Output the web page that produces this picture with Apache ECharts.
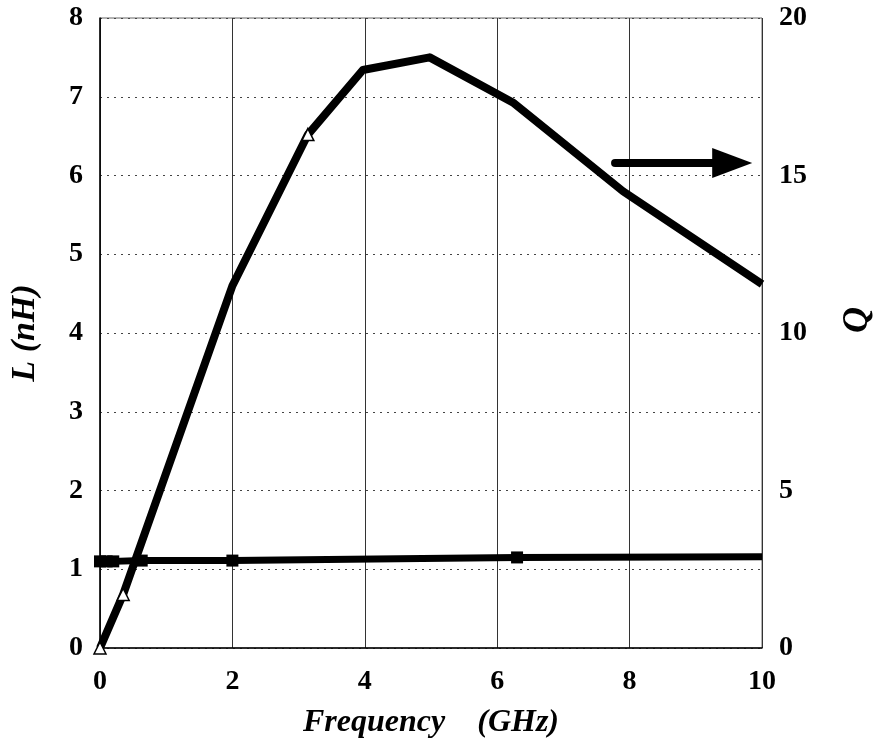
<!DOCTYPE html>
<html>
<head>
<meta charset="UTF-8">
<title>L and Q vs Frequency</title>
<style>
  html, body { margin: 0; padding: 0; background: #fff; }
  #wrap { width: 875px; height: 747px; }
</style>
</head>
<body>
<div id="wrap"></div>
<script src="https://cdn.jsdelivr.net/npm/echarts@6/dist/echarts.min.js"></script>
<script>
// inductance L (nH), left axis
const freqL = [0, 0.1, 0.2, 0.63, 2, 6.3, 10];
const valL = [1.10, 1.10, 1.10, 1.11, 1.11, 1.15, 1.16];
const markL = [true, true, true, true, true, true, false];

// quality factor Q, right axis
const freqQ = [0, 0.35, 2, 3.14, 3.97, 4.98, 6.25, 7.9, 10];
const valQ = [0, 1.7, 11.5, 16.3, 18.35, 18.75, 17.3, 14.5, 11.55];
const markQ = [true, true, false, true, false, false, false, false, false];

// arrow pointing to the right axis
const arrowFrom = [7.78, 15.4];
const arrowTo = [9.55, 15.4];

const serif = 'Liberation Serif';

let chart = echarts.init(document.getElementById('wrap'));

function pts(xs, ys, marks, sym) {
  return xs.map((x, i) => ({
    value: [x, ys[i]],
    symbol: marks[i] ? sym : 'none'
  }));
}

chart.setOption({
  animation: false,
  backgroundColor: '#fff',
  grid: {
    left: 100, right: 113, top: 18, bottom: 99,
    outerBoundsMode: 'none',
    containLabel: false,
    show: true, borderColor: '#666', borderWidth: 1
  },
  xAxis: {
    type: 'value', min: 0, max: 10, interval: 2,
    name: 'Frequency    (GHz)',
    nameLocation: 'middle', nameGap: 59,
    nameTextStyle: { fontFamily: serif, fontWeight: 'bold', fontStyle: 'italic', fontSize: 32, color: '#000' },
    axisLine: { lineStyle: { color: '#000', width: 1.5 } },
    axisTick: { show: false },
    axisLabel: { fontFamily: serif, fontWeight: 'bold', fontSize: 28, color: '#000', margin: 20 },
    splitLine: { show: true, lineStyle: { color: '#333', width: 1, type: 'solid' } }
  },
  yAxis: [{
    type: 'value', min: 0, max: 8, interval: 1,
    name: 'L (nH)',
    nameLocation: 'middle', nameGap: 58,
    nameTextStyle: { fontFamily: serif, fontWeight: 'bold', fontStyle: 'italic', fontSize: 34, color: '#000' },
    axisLine: { show: true, lineStyle: { color: '#000', width: 1.5 } },
    axisTick: { show: false },
    axisLabel: { fontFamily: serif, fontWeight: 'bold', fontSize: 28, color: '#000', margin: 17 },
    splitLine: { show: true, lineStyle: { color: '#444', width: 1, type: [2, 5] } }
  }, {
    type: 'value', min: 0, max: 20, interval: 5,
    position: 'right',
    name: 'Q',
    nameLocation: 'middle', nameGap: 78,
    nameTextStyle: { fontFamily: serif, fontWeight: 'bold', fontStyle: 'italic', fontSize: 36, color: '#000', padding: [0, 0, 0, 26] },
    axisLine: { show: false },
    axisTick: { show: false },
    axisLabel: { fontFamily: serif, fontWeight: 'bold', fontSize: 28, color: '#000', margin: 17 },
    splitLine: { show: false }
  }],
  series: [{
    name: 'L',
    type: 'line',
    yAxisIndex: 0,
    data: pts(freqL, valL, markL, 'rect'),
    symbolSize: 12,
    showAllSymbol: true,
    lineStyle: { color: '#000', width: 7 },
    itemStyle: { color: '#000', borderWidth: 0 },
    silent: true
  }, {
    name: 'Q',
    type: 'line',
    yAxisIndex: 1,
    data: pts(freqQ, valQ, markQ, 'triangle'),
    symbolSize: 12,
    showAllSymbol: true,
    lineStyle: { color: '#000', width: 8, join: 'round' },
    itemStyle: { color: '#fff', borderColor: '#000', borderWidth: 1.5 },
    silent: true,
    z: 3,
    markLine: {
      silent: true,
      symbol: ['none', 'triangle'],
      symbolSize: [30, 40],
      label: { show: false },
      lineStyle: { color: '#000', width: 8, type: 'solid', cap: 'round' },
      data: [[{ coord: arrowFrom }, { coord: arrowTo }]]
    }
  }]
});
</script>
</body>
</html>
